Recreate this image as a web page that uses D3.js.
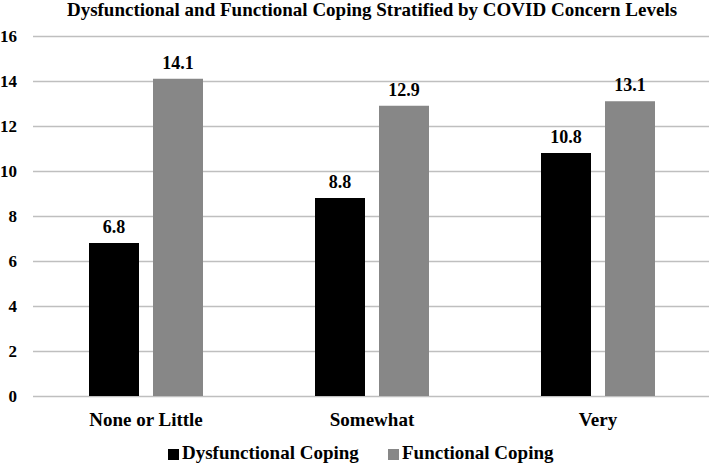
<!DOCTYPE html>
<html>
<head>
<meta charset="utf-8">
<script src="https://cdn.jsdelivr.net/npm/d3@7"></script>
<style>
  body { margin: 0; background: #fff; }
  text { font-family: "Liberation Serif", "Times New Roman", serif; font-weight: bold; fill: #000; }
</style>
</head>
<body>
<svg id="chart" width="709" height="465"></svg>
<script>
const categories = ["None or Little", "Somewhat", "Very"];
const seriesNames = ["Dysfunctional Coping", "Functional Coping"];
const dysfunctional = [6.8, 8.8, 10.8];
const functional = [14.1, 12.9, 13.1];
const yTicks = [0, 2, 4, 6, 8, 10, 12, 14, 16];
const colors = ["#000000", "#878787"];

const svg = d3.select("#chart");
const margin = { top: 36, right: -2, bottom: 69, left: 33 };
const width = +svg.attr("width");
const height = +svg.attr("height");

const rows = categories.map((c, i) => ({
  cat: c,
  vals: [dysfunctional[i], functional[i]]
}));

const x0 = d3.scaleBand()
  .domain(categories)
  .range([margin.left, width - margin.right])
  .padding(0);

// 50px bars, 14px gap inside each 226px group
const x1 = d3.scaleBand()
  .domain(seriesNames)
  .range([0, x0.bandwidth()])
  .paddingInner(0.21875)
  .paddingOuter(0.875);

const y = d3.scaleLinear()
  .domain([0, 16])
  .range([height - margin.bottom, margin.top]);

// title, centred over the plot
svg.append("text")
  .attr("x", (margin.left + width - margin.right) / 2)
  .attr("y", 16)
  .attr("text-anchor", "middle")
  .attr("font-size", 19)
  .text("Dysfunctional and Functional Coping Stratified by COVID Concern Levels");

// gridlines + y labels
const yAxisG = svg.append("g")
  .attr("transform", `translate(${margin.left},0)`)
  .call(d3.axisLeft(y).tickValues(yTicks)
    .tickSize(-(width - margin.left - margin.right))
    .tickPadding(16)
    .tickFormat(d3.format("d")));
yAxisG.select(".domain").remove();
yAxisG.selectAll(".tick line").attr("stroke", "#bfbfbf").attr("stroke-width", 1.5);
yAxisG.selectAll(".tick text")
  .attr("font-size", 17)
  .attr("fill", "#000")
  .style("font-family", "'Liberation Serif', 'Times New Roman', serif")
  .style("font-weight", "bold");

// bars
const groups = svg.append("g").selectAll("g")
  .data(rows)
  .join("g")
  .attr("transform", d => `translate(${x0(d.cat)},0)`);

groups.selectAll("rect")
  .data(d => d.vals.map((v, i) => ({ key: seriesNames[i], v, i })))
  .join("rect")
  .attr("x", d => x1(d.key))
  .attr("y", d => y(d.v))
  .attr("width", x1.bandwidth())
  .attr("height", d => y(0) - y(d.v))
  .attr("fill", d => colors[d.i]);

groups.selectAll("text.val")
  .data(d => d.vals.map((v, i) => ({ key: seriesNames[i], v, i })))
  .join("text")
  .attr("class", "val")
  .attr("x", d => x1(d.key) + x1.bandwidth() / 2)
  .attr("y", d => y(d.v) - 10)
  .attr("text-anchor", "middle")
  .attr("font-size", 18)
  .text(d => d.v.toFixed(1));

// category labels
svg.append("g").selectAll("text")
  .data(categories)
  .join("text")
  .attr("x", d => x0(d) + x0.bandwidth() / 2)
  .attr("y", height - margin.bottom + 30)
  .attr("text-anchor", "middle")
  .attr("font-size", 19)
  .text(d => d);

// legend
const legendX = [168, 388];
const legend = svg.append("g").selectAll("g")
  .data(seriesNames)
  .join("g")
  .attr("transform", (d, i) => `translate(${legendX[i]},459)`);
legend.append("rect")
  .attr("x", 0).attr("y", -10)
  .attr("width", 11).attr("height", 11)
  .attr("fill", (d, i) => colors[i]);
legend.append("text")
  .attr("x", 14)
  .attr("y", 0)
  .attr("font-size", 19)
  .text(d => d);
</script>
</body>
</html>
